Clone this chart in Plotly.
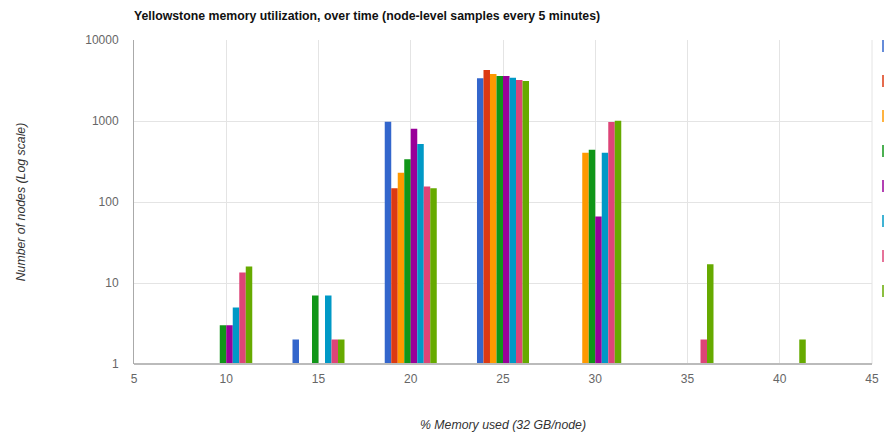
import plotly.graph_objects as go

# Memory-used buckets (% of 32 GB per node)
buckets = [10, 15, 20, 25, 30, 35, 40]

# Node counts per sample (None = no nodes in that bucket)
series_names = ["Sample 1", "Sample 2", "Sample 3", "Sample 4",
                "Sample 5", "Sample 6", "Sample 7", "Sample 8"]
sample_1 = [None, 2, 980, 3360, None, None, None]
sample_2 = [None, None, 148, 4250, None, None, None]
sample_3 = [None, None, 230, 3800, 406, None, None]
sample_4 = [3, 7, 337, 3590, 443, None, None]
sample_5 = [3, None, 800, 3590, 66, None, None]
sample_6 = [5, 7, 520, 3420, 406, None, None]
sample_7 = [13.5, 2, 155, 3200, 970, 2, None]
sample_8 = [16, 2, 148, 3110, 1010, 17, 2]
samples = [sample_1, sample_2, sample_3, sample_4,
           sample_5, sample_6, sample_7, sample_8]

colors = ["#3366cc", "#dc3912", "#ff9900", "#109618",
          "#990099", "#0099c6", "#dd4477", "#66aa00"]

y_ticks = [1, 10, 100, 1000, 10000]
x_ticks = [5, 10, 15, 20, 25, 30, 35, 40, 45]

fig = go.Figure()
for name, vals, col in zip(series_names, samples, colors):
    fig.add_trace(go.Bar(
        x=buckets, y=vals, name=name,
        marker=dict(color=col, line=dict(width=0)),
        showlegend=False,
    ))

# Legend swatches along the right edge (labels run off the page)
L, R, T, B = 134, 12, 40, 76
W, H = 884, 440
ph = H - T - B
pw = W - L - R
shapes = []
for i, col in enumerate(colors):
    cy = 46 + 35 * i
    shapes.append(dict(
        type="rect", xref="paper", yref="paper",
        x0=(882 - L) / pw, x1=(892 - L) / pw,
        y0=(H - B - (cy + 6)) / ph, y1=(H - B - (cy - 6)) / ph,
        fillcolor=col, opacity=0.75, line=dict(width=0), layer="above",
    ))

fig.update_layout(
    width=W, height=H,
    margin=dict(l=L, r=R, t=T, b=B, autoexpand=False),
    paper_bgcolor="white", plot_bgcolor="white",
    barmode="group", bargap=0.436, bargroupgap=0,
    font=dict(family="Liberation Sans, Arial, sans-serif", color="#555", size=12),
    title=dict(
        text="<b>Yellowstone memory utilization, over time (node-level samples every 5 minutes)</b>",
        x=0, xref="paper", xanchor="left",
        y=1 - 16 / H, yref="container", yanchor="middle",
        font=dict(size=12.3, color="#111"),
    ),
    xaxis=dict(
        range=[5, 45], tickvals=x_ticks, ticktext=[str(v) for v in x_ticks],
        showgrid=True, gridcolor="#e4e4e4", gridwidth=1,
        zeroline=False, showline=False, ticks="", automargin=False,
        ticklabelstandoff=6,
        tickfont=dict(size=12, color="#666"),
        title=dict(text="<i>% Memory used (32 GB/node)</i>",
                   font=dict(size=12.3, color="#333"), standoff=35),
    ),
    yaxis=dict(
        type="log", range=[0, 4],
        tickvals=y_ticks, ticktext=[str(v) for v in y_ticks],
        showgrid=True, gridcolor="#e4e4e4", gridwidth=1,
        zeroline=False, showline=True, linecolor="#aaa", linewidth=1,
        ticks="", ticklabelstandoff=12, automargin=False,
        tickfont=dict(size=12, color="#666"),
        title=dict(text="<i>Number of nodes (Log scale)</i>",
                   font=dict(size=12.3, color="#333"), standoff=56),
    ),
    shapes=shapes + [
        # baseline at the bottom of the plot
        dict(type="line", xref="paper", yref="paper", x0=0, x1=1, y0=0, y1=0,
             line=dict(color="#bbb", width=2), layer="above"),
        # right border at 45
        dict(type="line", xref="paper", yref="paper", x0=1, x1=1, y0=0, y1=1,
             line=dict(color="#e4e4e4", width=1), layer="below"),
    ],
)

fig.write_html("out.html")
